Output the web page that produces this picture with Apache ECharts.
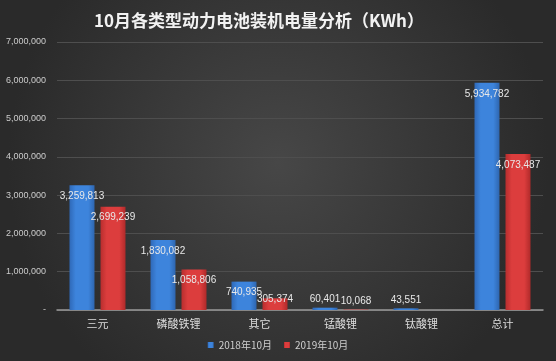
<!DOCTYPE html>
<html><head><meta charset="utf-8">
<script src="https://cdn.jsdelivr.net/npm/echarts@6/dist/echarts.min.js"></script>
<style>html,body{margin:0;padding:0;background:#333;}#c{width:556px;height:361px;}</style>
</head><body><div id="c"></div>
<script>
const categories = ['三元', '磷酸铁锂', '其它', '锰酸锂', '钛酸锂', '总计'];
const s2018 = [3259813, 1830082, 740935, 60401, 43551, 5934782];
const s2019 = [2699239, 1058806, 305374, 10068, 0, 4073487];
const seriesNames = ['2018年10月', '2019年10月'];
const titleText = '10月各类型动力电池装机电量分析（KWh）';

const fmt = v => v.toLocaleString('en-US');
function grad(c0, c1, c2) {
  return new echarts.graphic.LinearGradient(0, 0, 1, 0, [
    {offset: 0, color: c0}, {offset: 0.25, color: c1}, {offset: 0.75, color: c1}, {offset: 1, color: c2}
  ]);
}
function mkData(arr) {
  return arr.map(v => {
    if (v === 0) return {value: v, label: {show: false}};
    if (v > 500000) return {value: v, label: {position: 'insideTop', distance: 6}};
    if (v > 200000) return {value: v, label: {position: 'top', distance: 3, offset: [0, 9]}};
    return {value: v, label: {position: 'top', distance: 3}};
  });
}
const chart = echarts.init(document.getElementById('c'));
chart.setOption({
  backgroundColor: new echarts.graphic.RadialGradient(0.5, 0.45, 0.75, [
    {offset: 0, color: '#474747'}, {offset: 1, color: '#2a2a2a'}
  ]),
  title: {text: titleText, left: 254, top: 7, textAlign: 'center',
    textStyle: {color: '#f2f2f2', fontSize: 17, fontWeight: 'bold', fontFamily: 'Noto Sans CJK SC'}},
  legend: {bottom: 6, left: 'center', itemWidth: 6, itemHeight: 6, itemGap: 12, icon: 'rect',
    textStyle: {color: '#cfcfcf', fontSize: 10, fontFamily: 'Noto Sans CJK SC'}},
  grid: {left: 57, right: 13, top: 42, bottom: 51},
  xAxis: {type: 'category', data: categories,
    axisLine: {lineStyle: {color: '#9a9a9a', width: 1.5}}, axisTick: {show: false},
    axisLabel: {color: '#dddddd', fontSize: 11, margin: 8, fontFamily: 'Noto Sans CJK SC'}},
  yAxis: {type: 'value', min: 0, max: 7000000, interval: 1000000,
    axisLine: {show: false}, axisTick: {show: false},
    splitLine: {lineStyle: {color: '#4e4e4e'}},
    axisLabel: {color: '#cccccc', fontSize: 9, margin: 11, formatter: v => v === 0 ? '-' : fmt(v)}},
  series: [
    {name: seriesNames[0], type: 'bar', data: mkData(s2018), barWidth: 25, barGap: '24%',
      itemStyle: {color: grad('#2f69b8', '#3d84dc', '#2e66b0')},
      label: {show: true, color: '#e8e8e8', fontSize: 10, formatter: p => fmt(p.value)}},
    {name: seriesNames[1], type: 'bar', data: mkData(s2019), barWidth: 25,
      itemStyle: {color: grad('#b82e2e', '#dc3d3d', '#b02a2a')},
      label: {show: true, color: '#e8e8e8', fontSize: 10, formatter: p => fmt(p.value)}}
  ]
});
</script></body></html>
